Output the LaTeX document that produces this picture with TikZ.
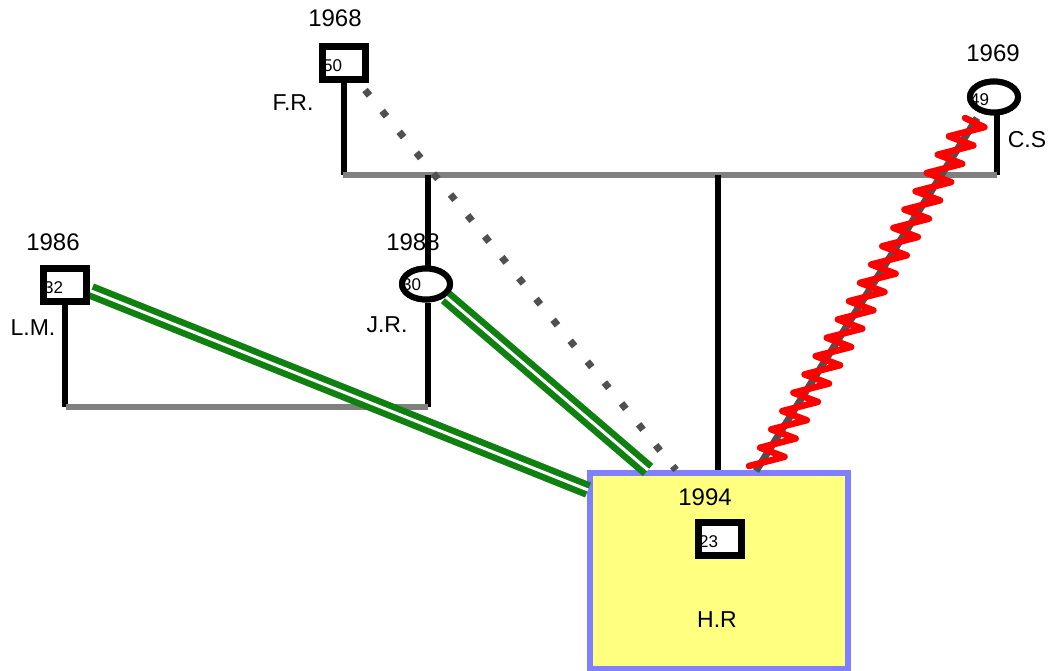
\documentclass[tikz,border=0pt]{standalone}
\usepackage{fontspec}
\setmainfont{Liberation Sans}
\usetikzlibrary{shapes.geometric,calc}
\definecolor{hryellow}{HTML}{FFFF80}
\definecolor{hrblue}{HTML}{7F7FFF}
\definecolor{lgray}{HTML}{808080}
\definecolor{dgray}{HTML}{505050}
\definecolor{gline}{HTML}{108010}
\tikzset{
  malebox/.style={draw=black, fill=white, rectangle, line width=7pt, minimum width=43pt, minimum height=33pt, inner sep=0pt},
  femalebox/.style={draw=black, fill=white, ellipse, line width=6pt, minimum width=48pt, minimum height=31pt, inner sep=0pt},
  yeartxt/.style={font=\fontsize{24}{26}\selectfont, inner sep=0pt},
  nametxt/.style={font=\fontsize{23}{25}\selectfont, inner sep=0pt},
  agetxt/.style={font=\fontsize{17}{18}\selectfont, inner sep=0pt, anchor=west},
  blackline/.style={draw=black, line width=5.5pt},
  grayline/.style={draw=lgray, line width=5.5pt},
  greenrel/.style={draw=gline, line width=6.5pt, double=white, double distance=3pt},
  dotrel/.style={draw=dgray, line width=7pt, dash pattern=on 7pt off 20pt},
  conflict/.style={draw=red, line width=6.5pt, line join=round, line cap=round},
  conflictbase/.style={draw=dgray, line width=7pt}
}
\begin{document}
\begin{tikzpicture}[x=1pt,y=-1pt]
\useasboundingbox (0,0) rectangle (1049,671);
% focus person box
\node[draw=hrblue, fill=hryellow, line width=6pt, rectangle, minimum width=258pt, minimum height=196pt, inner sep=0pt] (HR) at (719,571) {};
% coordinates for family lines
\coordinate (top1) at (343,175);
\coordinate (top2) at (997,175);
\coordinate (bot1) at (66,407);
\coordinate (bot2) at (428,407);
\coordinate (topmid) at (718,175);
\coordinate (topjr) at (428,175);
% people
\node[malebox] (FR) at (344,63) {};
\node[femalebox] (CS) at (994,97) {};
\node[femalebox] (JR) at (426,284) {};
\node[malebox] (LM) at (65,285) {};
\node[malebox] (HRs) at (720,539) {};
% family lines
\draw[blackline] (FR.south) -- (FR.south |- top1);
\draw[blackline] (top2 |- CS.south) -- (top2);
\draw[grayline] (top1) -- (top2);
\draw[blackline] (topjr) -- (JR.north -| topjr);
\draw[blackline] (JR.south -| bot2) -- (bot2);
\draw[blackline] (LM.south) -- (LM.south |- bot1);
\draw[grayline] (bot1) -- (bot2);
\draw[blackline] (topmid) -- (topmid |- HR.north);
% relations
\coordinate (dotA) at (365,90);
\coordinate (dotB) at (676,470);
\draw[dotrel] (dotA) -- (dotB);
\coordinate (gA) at (91,291);
\coordinate (gB) at (588,490);
\draw[greenrel] (gA) -- (gB);
\coordinate (jA) at (446,297);
\coordinate (jB) at (648,470);
\draw[greenrel] (jA) -- (jB);
\coordinate (zA) at (977,118);
\coordinate (zB) at (766,466);
\draw[conflictbase] (zA) -- ($(zB)+(-10,5)$);
\draw[conflict] ($(zA)+(-12,0)$)
  \foreach \k [evaluate=\k as \kk using \k+1] in {1,3,...,37} {
    -- ($(zA)!\k/38!(zB)+(13,0)$) -- ($(zA)!\kk/38!(zB)+(-17,0)$)
  };
% redraw person symbols on top
\node[malebox] at (FR) {};
\node[femalebox] at (CS) {};
\node[femalebox] at (JR) {};
\node[malebox] at (LM) {};
% ages
\node[agetxt] (aFR) at ([xshift=4pt,yshift=-3pt]FR.west) {50};
\node[agetxt] (aCS) at ([xshift=3pt,yshift=-3pt]CS.west) {49};
\node[agetxt] (aJR) at ([xshift=3pt,yshift=-1pt]JR.west) {30};
\node[agetxt] (aLM) at ([xshift=4pt,yshift=-3pt]LM.west) {32};
\node[agetxt] (aHR) at ([xshift=4pt,yshift=-3pt]HRs.west) {23};
% years and names
\node[yeartxt] (yFR) at (335,18) {1968};
\node[nametxt] (nFR) at (293,103) {F.R.};
\node[yeartxt] (yCS) at (993,53) {1969};
\node[nametxt] (nCS) at (1027,140) {C.S};
\node[yeartxt] (yLM) at (53,242) {1986};
\node[nametxt] (nLM) at (33,328) {L.M.};
\node[yeartxt] (yJR) at (413,242) {1988};
\node[nametxt] (nJR) at (387,325) {J.R.};
\node[yeartxt] (yHR) at (705,497) {1994};
\node[nametxt] (nHR) at (717,620) {H.R};
\end{tikzpicture}
\end{document}
